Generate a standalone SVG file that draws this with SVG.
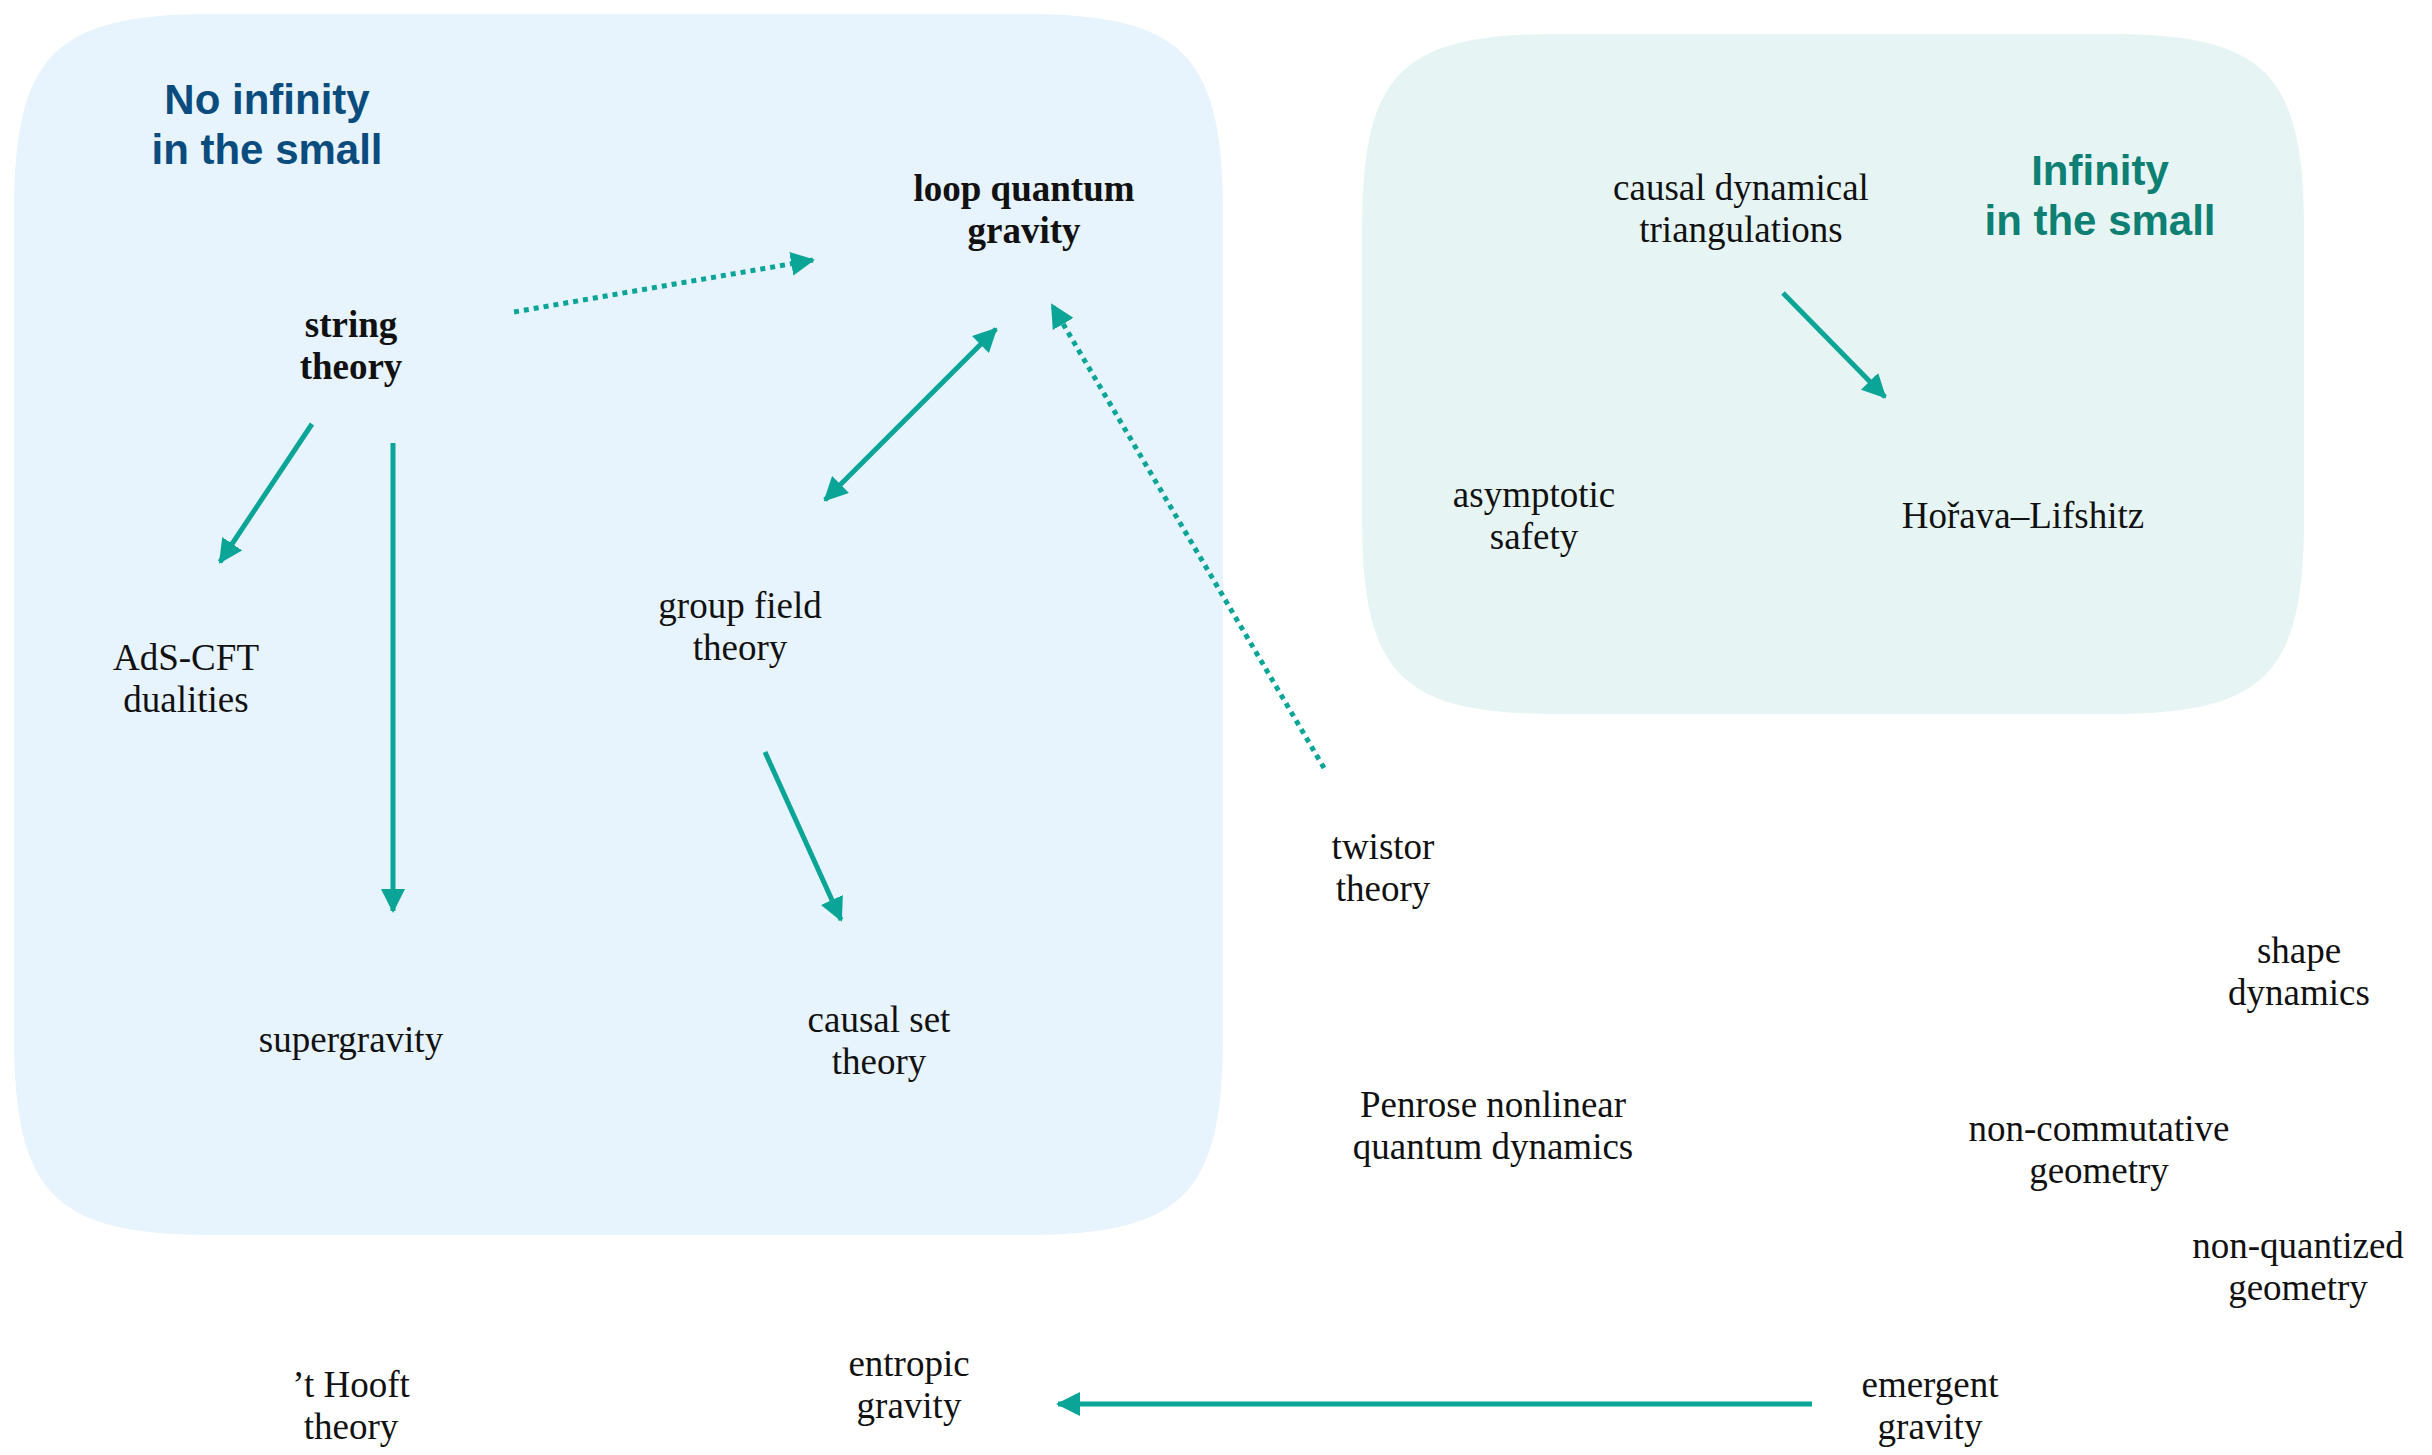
<svg xmlns="http://www.w3.org/2000/svg" width="2432" height="1455" viewBox="0 0 2432 1455">
  <style>
    .lbl { font-family: "Liberation Serif", "Times New Roman", serif; font-size: 37px; fill: #111; text-anchor: middle; }
    .bold { font-weight: bold; }
    .head { font-family: "Liberation Sans", Arial, sans-serif; font-size: 42px; font-weight: bold; text-anchor: middle; }
    .edge { fill: none; stroke: #0AA597; stroke-width: 5; }
    .dotted { stroke-dasharray: 5 5; }
  </style>
  <defs>
    <marker id="head" viewBox="0 0 24 24" refX="22" refY="12" markerWidth="24" markerHeight="24" markerUnits="userSpaceOnUse" orient="auto-start-reverse">
      <path d="M0,0 L24,12 L0,24 Z" fill="#0AA597"/>
    </marker>
  </defs>
  <rect width="2432" height="1455" fill="#ffffff"/>

  <!-- regions -->
  <g id="region-finite">
    <path d="M 214 14 H 1023 C 1183 14 1223 54 1223 214 V 1035 C 1223 1195 1183 1235 1023 1235 H 214 C 54 1235 14 1195 14 1035 V 214 C 14 54 54 14 214 14 Z" fill="#E7F3FD"/>
    <text class="head" fill="#0B4C7E" x="267" y="114">No infinity</text>
    <text class="head" fill="#0B4C7E" x="267" y="164">in the small</text>
  </g>
  <g id="region-infinite">
    <path d="M 1557 34 H 2109 C 2265 34 2304 73 2304 229 V 519 C 2304 675 2265 714 2109 714 H 1557 C 1401 714 1362 675 1362 519 V 229 C 1362 73 1401 34 1557 34 Z" fill="#E6F5F4"/>
    <text class="head" fill="#0E7F73" x="2100" y="185">Infinity</text>
    <text class="head" fill="#0E7F73" x="2100" y="235">in the small</text>
  </g>

  <!-- connectors -->
  <g id="connectors">
    <line class="edge dotted" x1="514" y1="312" x2="813" y2="260" marker-end="url(#head)"/>
    <line class="edge dotted" x1="1324" y1="768" x2="1052" y2="305" marker-end="url(#head)"/>
    <line class="edge" x1="996" y1="329" x2="825" y2="500" marker-start="url(#head)" marker-end="url(#head)"/>
    <line class="edge" x1="312" y1="424" x2="220" y2="562" marker-end="url(#head)"/>
    <line class="edge" x1="393" y1="443" x2="393" y2="911" marker-end="url(#head)"/>
    <line class="edge" x1="765" y1="752" x2="841" y2="920" marker-end="url(#head)"/>
    <line class="edge" x1="1783" y1="293" x2="1885" y2="397" marker-end="url(#head)"/>
    <line class="edge" x1="1812" y1="1404" x2="1058" y2="1404" marker-end="url(#head)"/>
  </g>

  <!-- nodes -->
  <g id="node-lqg"><text class="lbl bold" x="1024" y="201">loop quantum</text><text class="lbl bold" x="1024" y="243">gravity</text></g>
  <g id="node-string"><text class="lbl bold" x="351" y="337">string</text><text class="lbl bold" x="351" y="379">theory</text></g>
  <g id="node-gft"><text class="lbl" x="740" y="618">group field</text><text class="lbl" x="740" y="660">theory</text></g>
  <g id="node-adscft"><text class="lbl" x="186" y="670">AdS-CFT</text><text class="lbl" x="186" y="712">dualities</text></g>
  <g id="node-supergravity"><text class="lbl" x="351" y="1052">supergravity</text></g>
  <g id="node-causal-set"><text class="lbl" x="879" y="1032">causal set</text><text class="lbl" x="879" y="1074">theory</text></g>
  <g id="node-thooft"><text class="lbl" x="351" y="1397">’t Hooft</text><text class="lbl" x="351" y="1439">theory</text></g>
  <g id="node-entropic"><text class="lbl" x="909" y="1376">entropic</text><text class="lbl" x="909" y="1418">gravity</text></g>
  <g id="node-cdt"><text class="lbl" x="1741" y="200">causal dynamical</text><text class="lbl" x="1741" y="242">triangulations</text></g>
  <g id="node-asymptotic"><text class="lbl" x="1534" y="507">asymptotic</text><text class="lbl" x="1534" y="549">safety</text></g>
  <g id="node-horava"><text class="lbl" x="2023" y="528">Hořava–Lifshitz</text></g>
  <g id="node-twistor"><text class="lbl" x="1383" y="859">twistor</text><text class="lbl" x="1383" y="901">theory</text></g>
  <g id="node-shape"><text class="lbl" x="2299" y="963">shape</text><text class="lbl" x="2299" y="1005">dynamics</text></g>
  <g id="node-penrose"><text class="lbl" x="1493" y="1117">Penrose nonlinear</text><text class="lbl" x="1493" y="1159">quantum dynamics</text></g>
  <g id="node-ncg"><text class="lbl" x="2099" y="1141">non-commutative</text><text class="lbl" x="2099" y="1183">geometry</text></g>
  <g id="node-nonquantized"><text class="lbl" x="2298" y="1258">non-quantized</text><text class="lbl" x="2298" y="1300">geometry</text></g>
  <g id="node-emergent"><text class="lbl" x="1930" y="1397">emergent</text><text class="lbl" x="1930" y="1439">gravity</text></g>
</svg>
